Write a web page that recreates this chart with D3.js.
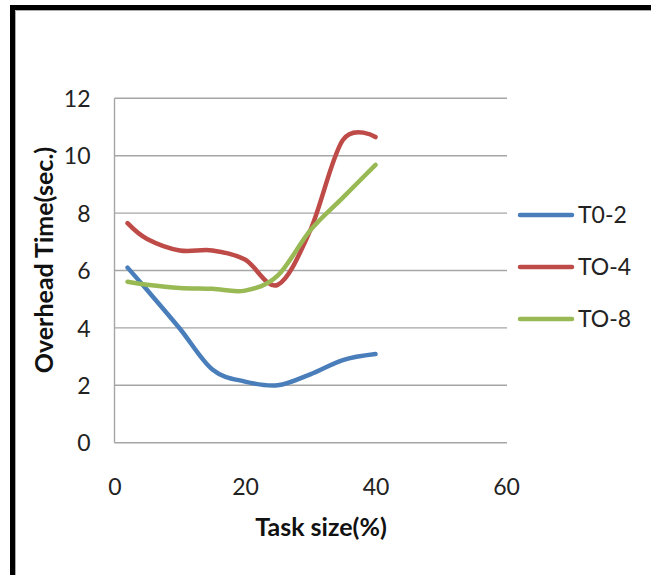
<!DOCTYPE html>
<html>
<head>
<meta charset="utf-8">
<script src="https://cdn.jsdelivr.net/npm/d3@7/dist/d3.min.js"></script>
<style>
  html, body { margin: 0; padding: 0; background: #fff; }
  svg { display: block; }
</style>
</head>
<body>
<svg id="chart" width="651" height="575"></svg>
<script>
// Task size (%) sampled for each run
const taskSizes = [2, 5, 10, 15, 20, 25, 30, 35, 40];

// Overhead time (sec.) per timeout setting
const seriesNames = ["T0-2", "TO-4", "TO-8"];
const overheadT02 = [6.1, 5.32, 3.98, 2.55, 2.13, 2.0, 2.38, 2.88, 3.09];
const overheadT04 = [7.65, 7.1, 6.7, 6.7, 6.38, 5.5, 7.4, 10.55, 10.65];
const overheadT08 = [5.61, 5.5, 5.39, 5.36, 5.3, 5.82, 7.4, 8.54, 9.68];
const seriesColors = ["#4a7ebb", "#be4b48", "#98b954"];

const xTicks = [0, 20, 40, 60];
const yTicks = [0, 2, 4, 6, 8, 10, 12];

const xTitle = "Task size(%)";
const yTitle = "Overhead Time(sec.)";

const series = [overheadT02, overheadT04, overheadT08].map((vals, i) => ({
  name: seriesNames[i],
  color: seriesColors[i],
  points: vals.map((v, j) => ({ x: taskSizes[j], y: v }))
}));

const svg = d3.select("#chart");
const font = "Lato, 'Liberation Sans', sans-serif";

// outer frame
svg.append("rect")
  .attr("x", 12.5).attr("y", 7.5)
  .attr("width", 700).attr("height", 700)
  .attr("fill", "none").attr("stroke", "#000").attr("stroke-width", 5);
svg.append("path")
  .attr("d", "M15.5,700V10.5H651")
  .attr("fill", "none").attr("stroke", "#aaa").attr("stroke-width", 1);

const x = d3.scaleLinear().domain([0, 60]).range([114.5, 506]);
const y = d3.scaleLinear().domain([0, 12]).range([442.7, 98.3]);

// horizontal gridlines
svg.append("g")
  .selectAll("line")
  .data(yTicks)
  .join("line")
  .attr("x1", x(0)).attr("x2", x(60) + 1)
  .attr("y1", d => y(d)).attr("y2", d => y(d))
  .attr("stroke", "#a6a6a6").attr("stroke-width", 1.4);

// vertical axis line
svg.append("line")
  .attr("x1", x(0)).attr("x2", x(0))
  .attr("y1", y(12)).attr("y2", y(0))
  .attr("stroke", "#a6a6a6").attr("stroke-width", 1.4);

// y tick labels
const yAxis = d3.axisLeft(y).tickValues(yTicks).tickSize(0).tickPadding(24);
const gy = svg.append("g").attr("transform", `translate(${x(0)},0)`).call(yAxis);
gy.select(".domain").remove();
gy.selectAll("text")
  .attr("font-family", font).attr("font-size", 23).attr("fill", "#222")
  .attr("dy", "0.36em");

// x tick labels
const xAxis = d3.axisBottom(x).tickValues(xTicks).tickSize(0).tickPadding(0);
const gx = svg.append("g").attr("transform", `translate(0,${y(0)})`).call(xAxis);
gx.select(".domain").remove();
gx.selectAll("text")
  .attr("font-family", font).attr("font-size", 23).attr("fill", "#222")
  .attr("dy", null).attr("y", 52);

// axis titles
svg.append("text")
  .attr("x", 321).attr("y", 536)
  .attr("text-anchor", "middle")
  .attr("font-family", font).attr("font-size", 25).attr("font-weight", "bold")
  .attr("fill", "#111")
  .text(xTitle);

svg.append("text")
  .attr("transform", "translate(53,260) rotate(-90)")
  .attr("text-anchor", "middle")
  .attr("font-family", font).attr("font-size", 25).attr("font-weight", "bold")
  .attr("fill", "#111")
  .text(yTitle);

// smoothed series lines
const line = d3.line()
  .x(d => x(d.x)).y(d => y(d.y))
  .curve(d3.curveCardinal.tension(0));

svg.append("g")
  .selectAll("path")
  .data(series)
  .join("path")
  .attr("d", d => line(d.points))
  .attr("fill", "none")
  .attr("stroke", d => d.color)
  .attr("stroke-width", 4.5)
  .attr("stroke-linecap", "round")
  .attr("stroke-linejoin", "round");

// legend
const legendY = d3.scalePoint().domain(seriesNames).range([215, 319]);
const legend = svg.append("g")
  .selectAll("g")
  .data(series)
  .join("g")
  .attr("transform", d => `translate(0,${legendY(d.name)})`);
legend.append("line")
  .attr("x1", 520).attr("x2", 572)
  .attr("stroke", d => d.color).attr("stroke-width", 4.5)
  .attr("stroke-linecap", "round");
legend.append("text")
  .attr("x", 578).attr("dy", "0.36em")
  .attr("font-family", font).attr("font-size", 23).attr("fill", "#222")
  .text(d => d.name);
</script>
</body>
</html>
